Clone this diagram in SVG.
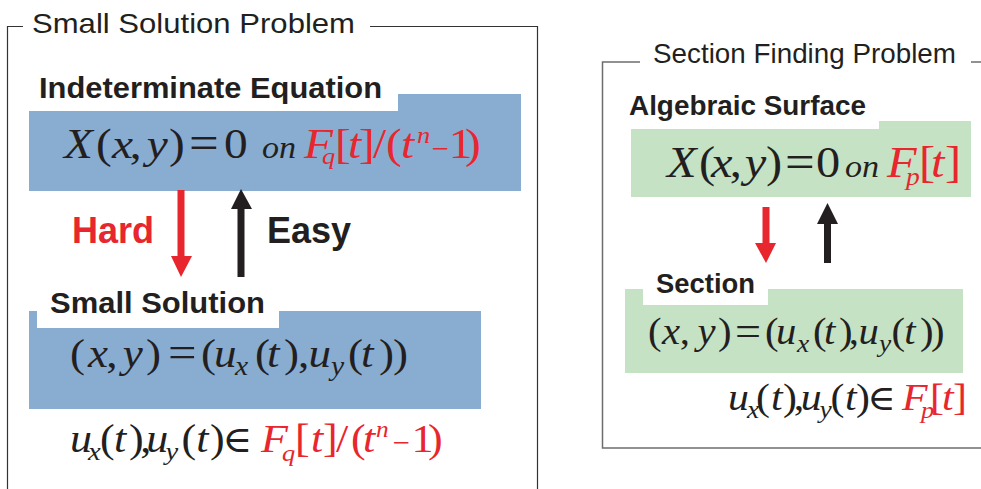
<svg xmlns="http://www.w3.org/2000/svg" width="981" height="489" viewBox="0 0 981 489">
<defs>
<style>
.frameL{fill:none;stroke:#333;stroke-width:1.2}
.frameR{fill:none;stroke:#6d6d6d;stroke-width:1.5}
.ttl{font-family:"Liberation Sans",Arial,sans-serif;font-size:28px;fill:#231f20}
.lbl{font-family:"Liberation Sans",Arial,sans-serif;font-weight:bold;fill:#231f20}
.blue{fill:#89acd1}
.green{fill:#c6e2c4}
.wh{fill:#ffffff}
.m{font-family:"Liberation Serif","Times New Roman",serif;fill:#231f20}
.i{font-style:italic}
.r{fill:#e8262d}
.el{font-family:"DejaVu Serif","DejaVu Sans",serif}
</style>
</defs>
<rect width="981" height="489" fill="#ffffff"/>

<g id="panel-small-solution">
<path class="frameL" d="M23 26.5H7.5V489M370 26.5H537.5V489"/>
<text class="ttl" x="32" y="33" font-size="29" textLength="323" lengthAdjust="spacingAndGlyphs">Small Solution Problem</text>
</g>

<g id="node-indeterminate-equation">
<rect class="blue" x="29" y="94" width="492" height="97"/>
<rect class="wh" x="29" y="94" width="369" height="17"/>
<text class="lbl" x="39" y="98" font-size="29" textLength="343" lengthAdjust="spacingAndGlyphs">Indeterminate Equation</text>
<text class="m" font-size="43" y="158" transform="scale(1.1 1)"><tspan class="i" x="58.2">X</tspan><tspan x="87.3">(</tspan><tspan class="i" x="101.8">x</tspan><tspan x="118">,</tspan><tspan class="i" x="133.5">y</tspan><tspan x="153.6">)</tspan><tspan x="171.8" y="159" font-size="48">=</tspan><tspan x="203.6" y="158">0</tspan><tspan class="i" x="238.2" font-size="31">on</tspan><tspan class="i r" x="276.4">F</tspan><tspan class="i r" x="292.7" y="164" font-size="24">q</tspan><tspan class="r" x="304.5" y="158">[</tspan><tspan class="i r" x="316.4">t</tspan><tspan class="r" x="326.4">]</tspan><tspan class="r" x="339.1">/</tspan><tspan class="r" x="350.9">(</tspan><tspan class="i r" x="364.5">t</tspan><tspan class="i r" x="379.1" y="143" font-size="24">n</tspan><tspan class="r" x="392.5" y="158" font-size="28">−</tspan><tspan class="r" x="408">1</tspan><tspan class="r" x="422.7">)</tspan></text>
</g>

<g id="node-small-solution">
<rect class="blue" x="29" y="311" width="452" height="98"/>
<rect class="wh" x="37" y="300" width="242" height="28"/>
<text class="lbl" x="50" y="313" font-size="29" textLength="215" lengthAdjust="spacingAndGlyphs">Small Solution</text>
<text class="m" font-size="41" y="367" transform="scale(1.1 1)"><tspan x="63.6">(</tspan><tspan class="i" x="80">x</tspan><tspan x="96.5">,</tspan><tspan class="i" x="111.5">y</tspan><tspan x="132.7">)</tspan><tspan x="152.7" y="368" font-size="46">=</tspan><tspan x="182.7" y="367">(</tspan><tspan class="i" x="194.5">u</tspan><tspan class="i" x="213.6" y="375" font-size="27">x</tspan><tspan x="231.8" y="367">(</tspan><tspan class="i" x="242.7">t</tspan><tspan x="258.2">)</tspan><tspan x="271">,</tspan><tspan class="i" x="280.5">u</tspan><tspan class="i" x="301" y="375" font-size="27">y</tspan><tspan x="316.4" y="367">(</tspan><tspan class="i" x="328.2">t</tspan><tspan x="344.5">)</tspan><tspan x="357.3">)</tspan></text>
</g>

<g id="text-small-domain">
<text class="m" font-size="40" y="452" transform="scale(1.1 1)"><tspan class="i" x="63.6">u</tspan><tspan class="i" x="80" y="460" font-size="26">x</tspan><tspan x="90.9" y="452">(</tspan><tspan class="i" x="103.6">t</tspan><tspan x="117.3">)</tspan><tspan x="127.5">,</tspan><tspan class="i" x="133">u</tspan><tspan class="i" x="150.5" y="460" font-size="26">y</tspan><tspan x="165" y="452">(</tspan><tspan class="i" x="178.5">t</tspan><tspan x="191">)</tspan><tspan class="el" x="202" font-size="37">∈</tspan><tspan class="i r" x="237.3">F</tspan><tspan class="i r" x="256.4" y="461" font-size="24">q</tspan><tspan class="r" x="268.2" y="452">[</tspan><tspan class="i r" x="282.7">t</tspan><tspan class="r" x="293.6">]</tspan><tspan class="r" x="305.5">/</tspan><tspan class="r" x="319.1">(</tspan><tspan class="i r" x="330">t</tspan><tspan class="i r" x="341.8" y="437" font-size="23">n</tspan><tspan class="r" x="357" y="452" font-size="28">−</tspan><tspan class="r" x="374">1</tspan><tspan class="r" x="389.1">)</tspan></text>
</g>

<g id="panel-section-finding">
<path class="frameR" d="M640 62H602.5V448H981M971 62H981"/>
<text class="ttl" x="653" y="63" font-size="28" textLength="303" lengthAdjust="spacingAndGlyphs">Section Finding Problem</text>
</g>

<g id="node-algebraic-surface">
<rect class="green" x="631" y="121" width="340" height="76"/>
<rect class="wh" x="631" y="121" width="248" height="8"/>
<text class="lbl" x="629" y="115" font-size="27" textLength="237" lengthAdjust="spacingAndGlyphs">Algebraic Surface</text>
<text class="m" font-size="44" y="177" transform="scale(1.1 1)"><tspan class="i" x="606.4">X</tspan><tspan x="635.5">(</tspan><tspan class="i" x="646.4">x</tspan><tspan x="663.5">,</tspan><tspan class="i" x="677">y</tspan><tspan x="696.4">)</tspan><tspan x="713.6" y="178" font-size="48">=</tspan><tspan x="741.8" y="177">0</tspan><tspan class="i" x="768.2" font-size="31">on</tspan><tspan class="i r" x="806.4">F</tspan><tspan class="i r" x="823.6" y="185" font-size="25">p</tspan><tspan class="r" x="835.5" y="177">[</tspan><tspan class="i r" x="846.4">t</tspan><tspan class="r" x="859.1">]</tspan></text>
</g>

<g id="node-section">
<rect class="green" x="625" y="289" width="338" height="84"/>
<rect class="wh" x="643" y="280" width="125" height="25"/>
<text class="lbl" x="656" y="293" font-size="27" textLength="99" lengthAdjust="spacingAndGlyphs">Section</text>
<text class="m" font-size="37" y="344" transform="scale(1.1 1)"><tspan x="589.1">(</tspan><tspan class="i" x="601.8">x</tspan><tspan x="618">,</tspan><tspan class="i" x="634">y</tspan><tspan x="652.7">)</tspan><tspan x="668.2" y="345" font-size="42">=</tspan><tspan x="695.5" y="344">(</tspan><tspan class="i" x="705.5">u</tspan><tspan class="i" x="724.5" y="352" font-size="25">x</tspan><tspan x="739.1" y="344">(</tspan><tspan class="i" x="749.1">t</tspan><tspan x="762.7">)</tspan><tspan x="771.5">,</tspan><tspan class="i" x="780.5">u</tspan><tspan class="i" x="799" y="352" font-size="25">y</tspan><tspan x="810.5" y="344">(</tspan><tspan class="i" x="822">t</tspan><tspan x="836.4">)</tspan><tspan x="846.4">)</tspan></text>
</g>

<g id="text-section-domain">
<text class="m" font-size="38" y="410" transform="scale(1.1 1)"><tspan class="i" x="661.8">u</tspan><tspan class="i" x="679.1" y="418" font-size="25">x</tspan><tspan x="687.3" y="410">(</tspan><tspan class="i" x="700.9">t</tspan><tspan x="711.8">)</tspan><tspan x="721.5">,</tspan><tspan class="i" x="728">u</tspan><tspan class="i" x="745" y="418" font-size="25">y</tspan><tspan x="755" y="410">(</tspan><tspan class="i" x="768.2">t</tspan><tspan x="778.2">)</tspan><tspan class="el" x="788.5" font-size="35">∈</tspan><tspan class="i r" x="820">F</tspan><tspan class="i r" x="837.3" y="418" font-size="24">p</tspan><tspan class="r" x="845.5" y="410">[</tspan><tspan class="i r" x="856.4">t</tspan><tspan class="r" x="866.4">]</tspan></text>
</g>

<g id="connectors">
<path fill="#e8262d" d="M177.5 190H184.5V256H192L181 277L171 256H177.5Z"/>
<path fill="#231f20" d="M241 189L252 209H244.5V277H237.5V209H231Z"/>
<text class="lbl" x="72" y="243" font-size="36" style="fill:#e8262d">Hard</text>
<text class="lbl" x="267" y="243" font-size="36">Easy</text>
<path fill="#e8262d" d="M762.5 207H769.5V243H776L766 263L755 243H762.5Z"/>
<path fill="#231f20" d="M827.5 203L838 224H831V263H824V224H817Z"/>
</g>
</svg>
